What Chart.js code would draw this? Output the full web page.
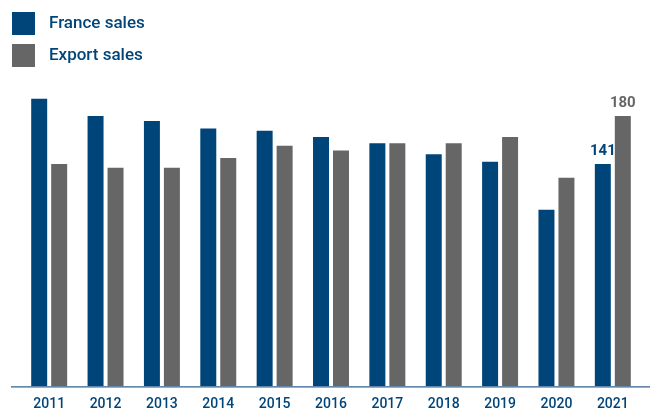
<!DOCTYPE html>
<html>
<head>
<meta charset="utf-8">
<script src="https://cdn.jsdelivr.net/npm/chart.js@4/dist/chart.umd.min.js"></script>
<style>
  html, body { margin: 0; padding: 0; background: #fff; }
  #wrap { width: 668px; height: 412px; position: relative; }
</style>
</head>
<body>
<div id="wrap"><canvas id="chart"></canvas></div>
<script>
// values (only 2021 is labelled)
const years = ['2011', '2012', '2013', '2014', '2015', '2016', '2017', '2018', '2019', '2020', '2021'];
const franceSales = [194, 180, 176, 170, 168, 163, 158, 149, 143, 104, 141];
const exportSales = [141, 138, 138, 146, 156, 152, 158, 158, 163, 130, 180];
const seriesNames = ['France sales', 'Export sales'];

const blue = '#00457a';
const grey = '#666666';
const textFont = 'Roboto, sans-serif';

// the value axis is hidden and does not start at zero in the source
const yMin = -39.4;
const yMax = 209.3;

const legendBoxes = {
    id: 'legendBoxes',
    afterDraw(chart) {
        let c = chart.ctx;
        c.save();
        chart.data.datasets.forEach((ds, i) => {
            let top = 12 + i * 32;
            c.fillStyle = ds.backgroundColor;
            c.fillRect(12, top, 23, 23);
            c.fillStyle = blue;
            c.font = '500 17px ' + textFont;
            c.textBaseline = 'middle';
            c.textAlign = 'left';
            c.fillText(ds.label, 49, top + 12);
        });
        c.restore();
    }
};

const lastValues = {
    id: 'lastValues',
    afterDatasetsDraw(chart) {
        let c = chart.ctx;
        c.save();
        c.font = 'bold 15px ' + textFont;
        c.textAlign = 'center';
        c.textBaseline = 'bottom';
        chart.data.datasets.forEach((ds, i) => {
            let bars = chart.getDatasetMeta(i).data;
            let last = bars.length - 1;
            let bar = bars[last];
            c.fillStyle = ds.backgroundColor;
            c.fillText(ds.data[last], bar.x, bar.y - 5);
        });
        c.restore();
    }
};

const baseLine = {
    id: 'baseLine',
    afterDatasetsDraw(chart) {
        let c = chart.ctx;
        let y = chart.chartArea.bottom + 0.5;
        c.save();
        c.strokeStyle = '#2f6090';
        c.lineWidth = 1.2;
        c.beginPath();
        c.moveTo(11, y);
        c.lineTo(650, y);
        c.stroke();
        c.restore();
    }
};

let config = {
    type: 'bar',
    data: {
        labels: years,
        datasets: [{
            label: seriesNames[0],
            data: franceSales,
            backgroundColor: blue,
            base: yMin
        }, {
            label: seriesNames[1],
            data: exportSales,
            backgroundColor: grey,
            base: yMin
        }]
    },
    options: {
        responsive: true,
        maintainAspectRatio: false,
        animation: false,
        layout: {padding: {left: 21, right: 27, top: 80, bottom: 0}},
        datasets: {bar: {barPercentage: 0.8, categoryPercentage: 0.709}},
        plugins: {
            legend: {display: false},
            tooltip: {enabled: false}
        },
        scales: {
            x: {
                grid: {display: false, drawTicks: false},
                border: {display: false},
                ticks: {
                    color: blue,
                    padding: 10,
                    font: {family: textFont, size: 14, weight: '500'}
                },
                afterFit: s => { s.height = 25.7; }
            },
            y: {
                display: false,
                min: yMin,
                max: yMax
            }
        }
    },
    plugins: [legendBoxes, lastValues, baseLine]
};

new Chart(document.getElementById('chart'), config);
</script>
</body>
</html>
